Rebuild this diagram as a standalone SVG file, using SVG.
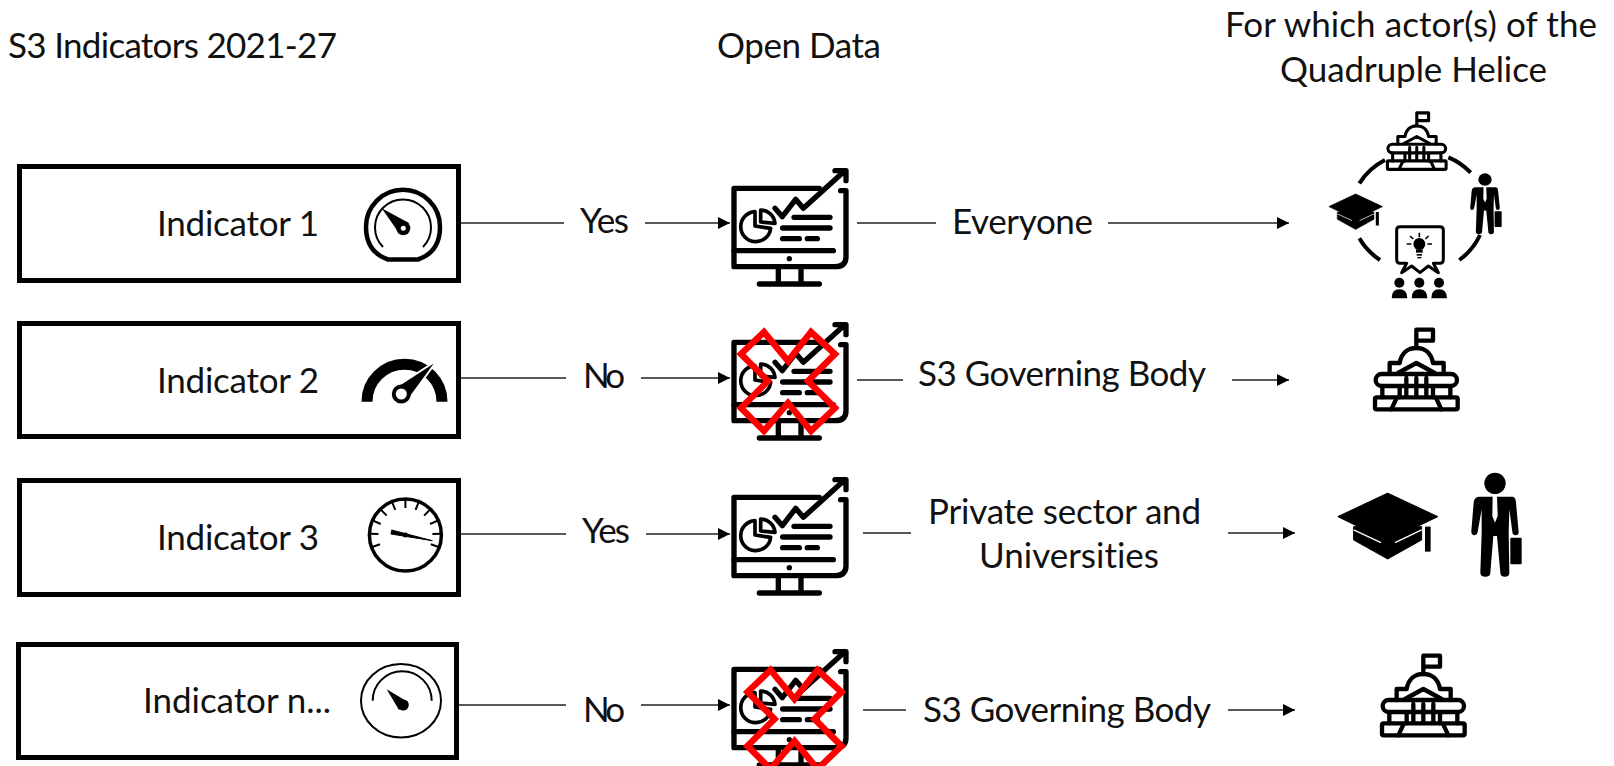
<svg xmlns="http://www.w3.org/2000/svg" xmlns:xlink="http://www.w3.org/1999/xlink" width="1614" height="766" viewBox="0 0 1614 766">
<style>
text{font-family:Lato,"Liberation Sans",sans-serif;font-size:35px;fill:#111;font-variant-ligatures:none}
.box{fill:#fff;stroke:#000;stroke-width:5}
.conn{stroke:#222;stroke-width:1.4;fill:none}
.arr{marker-end:url(#ah)}
.ln{fill:none;stroke:#000;stroke-width:16;stroke-linecap:round;stroke-linejoin:round}
.pie{fill:none;stroke:#000;stroke-width:11;stroke-linejoin:round}
.b{fill:none;stroke:#000;stroke-width:13;stroke-linecap:round;stroke-linejoin:round}
.x{fill:none;stroke:#f00;stroke-width:6.5;stroke-linejoin:miter}
</style>
<defs>
<marker id="ah" markerUnits="userSpaceOnUse" markerWidth="12" markerHeight="12" refX="12" refY="6" orient="auto"><path d="M0 0L12 6L0 12Z" fill="#000"/></marker>
<g id="monitor" transform="scale(.33333)">
<path class="ln" d="M298 85H42V320H345Q378 320 378 290V92H362"/>
<path class="ln" d="M42 272H340M175 325V372M243 325V372M118 372H298M222 172H330M188 204H330M188 236H238M262 236H292"/>
<path class="ln" d="M165 145L187 170L227 118L250 145L368 38M345 32H378V62"/>
<circle cx="208" cy="296" r="8"/>
<path class="pie" d="M105 155A45 45 0 1 0 152 205L105 198Z"/>
<path class="pie" d="M122 150A44 44 0 0 1 165 190L122 186Z"/>
</g>
<g id="building"><path class="b" d="M130 60V5H180V38H130M80 105C85 75 105 60 130 60C155 60 175 75 180 105M50 138V105H80M180 105H212V138M75 135L130 105L185 135M100 150V205M130 150V205M160 150V205M28 175V208M232 175V208M80 175V208M180 175V208M55 244L70 212M205 244L190 212"/><rect class="b" x="8" y="138" width="244" height="36" rx="18"/><rect class="b" x="6" y="208" width="248" height="36" rx="5"/></g>
<g id="cap"><path d="M46 100V140L148 197L250 140V100Z" stroke="#000" stroke-width="3" stroke-linejoin="round"/><path d="M0 70L148 0L297 70L148 142Z" stroke="#000" stroke-width="4" stroke-linejoin="round"/><path d="M46 110L128 148M250 110L170 148" stroke="#fff" stroke-width="4" fill="none"/><rect x="260" y="100" width="17" height="75"/></g>
<g id="man"><circle cx="72" cy="32" r="32"/><path d="M22 72L125 72Q134 74 135 90L143 178Q143 188 134 188Q125 188 124 178L115 110L113 180L115 300Q115 312 102 312Q88 312 88 300L78 190L67 190L58 300Q58 312 43 312Q28 312 28 300L32 180L32 110L20 178Q18 188 8 188Q0 186 1 175L8 90Q9 75 22 72Z"/><path d="M65 70L78 70L80 130L72 150L64 130Z" fill="#fff"/><rect x="118" y="195" width="34" height="80" rx="3"/></g>
<path id="redx" class="x" d="M764 332L788 361L811 332L835 354L808 381L835 408L811 431L788 403L764 431L741 408L768 381L741 354Z"/>
</defs>
<rect width="1614" height="766" fill="#fff"/>
<g id="connectors">
<path class="conn" d="M461 223H564"/><path class="conn arr" d="M645 223H730"/><path class="conn" d="M857 223H936"/><path class="conn arr" d="M1108 223H1289"/>
<path class="conn" d="M461 378H566"/><path class="conn arr" d="M641 378H730"/><path class="conn" d="M857 380H903"/><path class="conn arr" d="M1232 380H1289"/>
<path class="conn" d="M461 534H566"/><path class="conn arr" d="M646 534H730"/><path class="conn" d="M863 533H911"/><path class="conn arr" d="M1228 533H1295"/>
<path class="conn" d="M459 705H566"/><path class="conn arr" d="M641 705H730"/><path class="conn" d="M863 710H906"/><path class="conn arr" d="M1228 710H1295"/>
</g>
<g id="headers">
<text x="8" y="58" textLength="329">S3 Indicators 2021-27</text>
<text x="717" y="58" textLength="164">Open Data</text>
<text x="1225" y="37" textLength="372">For which actor(s) of the</text>
<text x="1280" y="82" textLength="267">Quadruple Helice</text>
</g>
<g id="indicator-1"><rect class="box" x="19.5" y="166.5" width="439" height="114"/><text x="157" y="236" textLength="162">Indicator 1</text>
<path d="M388 259.5C372 254 366 241 366 226.7A37 37 0 0 1 440 226.7C440 241 434 254 418 259.5Z" fill="none" stroke="#000" stroke-width="4.5"/>
<path d="M383 247A28 28 0 1 1 423 247" fill="none" stroke="#000" stroke-width="2"/>
<path d="M381.7 208.3L409 223L399 233Z"/><circle cx="403.3" cy="228.3" r="7"/><circle cx="403.3" cy="228.3" r="2.5" fill="#fff"/></g>
<g id="indicator-2"><rect class="box" x="19.5" y="323.5" width="439" height="113"/><text x="157" y="393" textLength="162">Indicator 2</text>
<path d="M367 401.7A37.5 37.5 0 0 1 442 401.7" fill="none" stroke="#000" stroke-width="11"/>
<path d="M437.5 360L409 399L396 387Z" stroke="#fff" stroke-width="2"/><circle cx="401.3" cy="394" r="7.5" fill="#fff" stroke="#000" stroke-width="4"/></g>
<g id="indicator-3"><rect class="box" x="19.5" y="480.5" width="439" height="114"/><text x="157" y="550" textLength="162">Indicator 3</text>
<circle cx="405.4" cy="535" r="36" fill="none" stroke="#000" stroke-width="3.5"/>
<path d="M405.4 499v9" stroke="#000" stroke-width="2"/>
<g stroke="#000" stroke-width="2"><path d="M405.4 499v9" transform="rotate(-110 405.4 535)"/><path d="M405.4 499v9" transform="rotate(-88 405.4 535)"/><path d="M405.4 499v9" transform="rotate(-66 405.4 535)"/><path d="M405.4 499v9" transform="rotate(-44 405.4 535)"/><path d="M405.4 499v9" transform="rotate(-22 405.4 535)"/><path d="M405.4 499v9" transform="rotate(22 405.4 535)"/><path d="M405.4 499v9" transform="rotate(44 405.4 535)"/><path d="M405.4 499v9" transform="rotate(66 405.4 535)"/><path d="M405.4 499v9" transform="rotate(88 405.4 535)"/><path d="M405.4 499v9" transform="rotate(110 405.4 535)"/></g>
<path d="M391.7 530L432.3 540.7L391 534Z" stroke="#000" stroke-width="1"/><circle cx="405.4" cy="535" r="2.5"/></g>
<g id="indicator-n"><rect class="box" x="18.5" y="644.5" width="438" height="113"/><text x="143" y="713" textLength="188">Indicator n...</text>
<ellipse cx="401" cy="700.7" rx="40" ry="36.7" fill="none" stroke="#000" stroke-width="2"/>
<path d="M372.7 700.7A29.5 29.5 0 0 1 431.7 700.7" fill="none" stroke="#000" stroke-width="2"/>
<path d="M386.7 689.3L408 702L399 710Z"/><circle cx="403.3" cy="705" r="5.5"/></g>
<g id="row1-data"><use href="#monitor" transform="translate(720 160)"/></g>
<g id="row2-data"><use href="#monitor" transform="translate(720 314)"/><use href="#redx"/></g>
<g id="row3-data"><use href="#monitor" transform="translate(720 469)"/></g>
<g id="row4-data"><use href="#monitor" transform="translate(720 641)"/><use href="#redx" transform="translate(6.5 338)"/></g>
<g id="labels">
<text x="580" y="233" textLength="49">Yes</text><text x="583" y="388" textLength="42">No</text><text x="582" y="543" textLength="48">Yes</text><text x="583" y="722" textLength="42">No</text>
<text x="952" y="234" textLength="141">Everyone</text><text x="918" y="386" textLength="288">S3 Governing Body</text>
<text x="928" y="524" textLength="273">Private sector and</text><text x="979" y="568" textLength="180">Universities</text>
<text x="923" y="722" textLength="288">S3 Governing Body</text>
</g>
<g id="quadruple-helix" transform="translate(1300 100) scale(.33333)">
<g fill="none" stroke="#000" stroke-width="12"><path d="M178 250A197 197 0 0 1 255 180M445 172A190 190 0 0 1 512 218M178 415A197 197 0 0 0 240 480M478 480A192 192 0 0 0 540 405"/></g>
<use href="#building" transform="translate(258 35) scale(.71)"/>
<use href="#cap" transform="translate(87 282) scale(.54)"/>
<use href="#man" transform="translate(510 220) scale(.625 .585)"/>
<path d="M300 380H420Q430 380 430 390V478Q430 490 420 490H400L415 518L385 498L360 518L335 498L305 518L320 490H300Q290 490 290 478V390Q290 380 300 380Z" fill="#fff" stroke="#000" stroke-width="9" stroke-linejoin="round"/>
<circle cx="358" cy="432" r="18"/><rect x="348" y="448" width="20" height="10"/><rect x="350" y="462" width="16" height="5"/><rect x="352" y="471" width="12" height="4"/>
<path d="M358 398V412M330 408L340 417M386 408L376 417M320 432H334M382 432H396" stroke="#000" stroke-width="5"/>
<circle cx="298" cy="548" r="15"/><circle cx="358" cy="548" r="15"/><circle cx="417" cy="548" r="15"/>
<path d="M275 595Q275 568 298 568Q322 568 322 595ZM335 595Q335 568 358 568Q382 568 382 595ZM394 595Q394 568 417 568Q441 568 441 595Z"/>
</g>
<g id="governing-body-2" transform="translate(1373 328) scale(.33333)"><use href="#building"/></g>
<g id="university" transform="translate(1338.3 493.3) scale(.33333)"><use href="#cap"/></g>
<g id="private" transform="translate(1471 472.7) scale(.33333)"><use href="#man"/></g>
<g id="governing-body-4" transform="translate(1380 654) scale(.33333)"><use href="#building"/></g>
</svg>
